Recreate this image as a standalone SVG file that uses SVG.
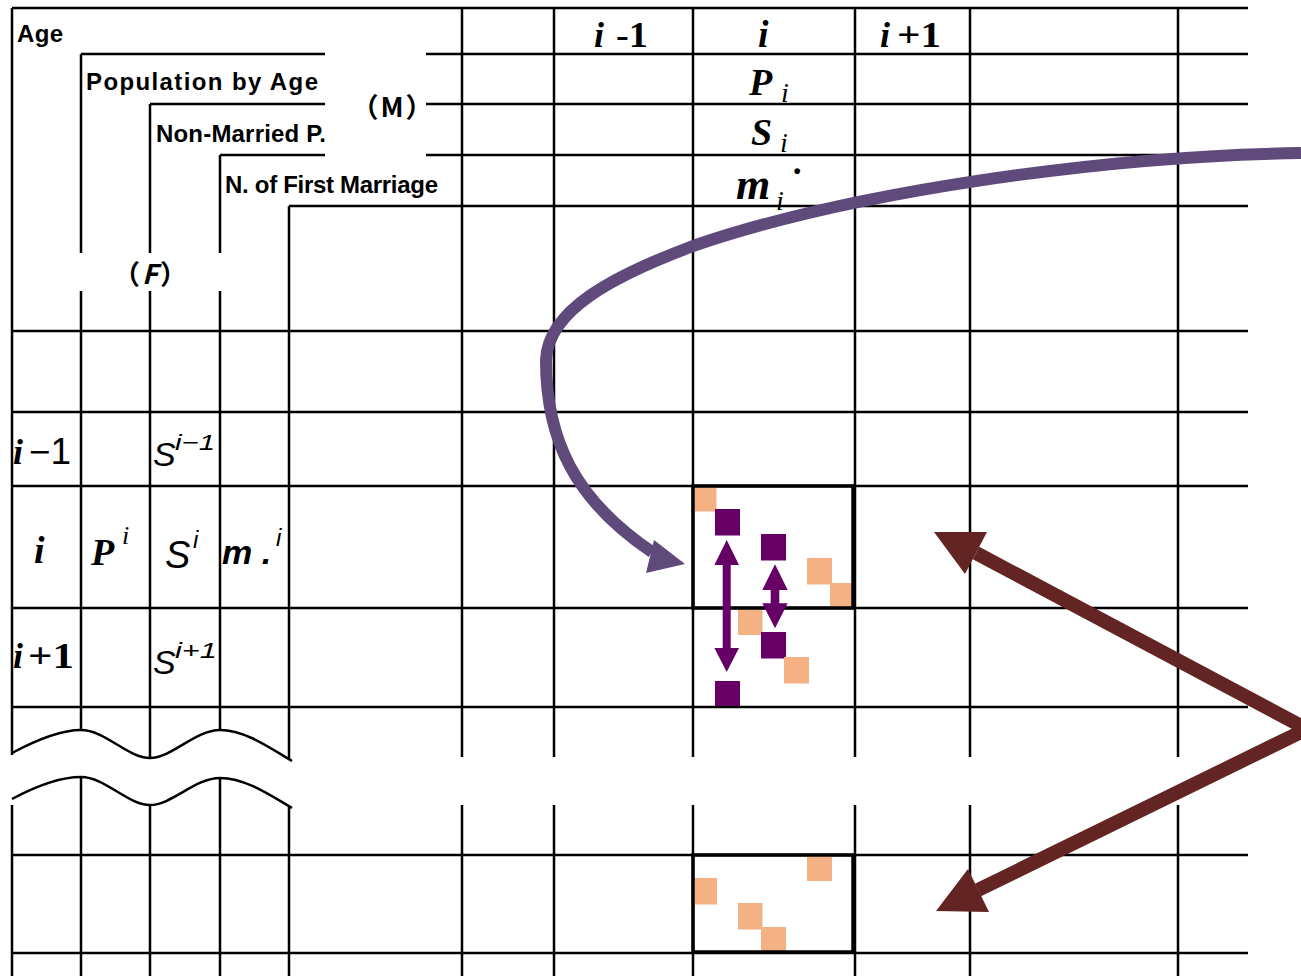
<svg xmlns="http://www.w3.org/2000/svg" width="1301" height="976" viewBox="0 0 1301 976">
<style>
.g{stroke:#000;stroke-width:2.5;fill:none}
.box{stroke:#000;stroke-width:3.5;fill:none}
.or{fill:#F4B183}
.pu{fill:#660066}
.lbl{font-family:"Liberation Sans",Arial,sans-serif;font-weight:bold;font-size:24px;fill:#000}
.par{font-family:"Noto Sans CJK JP","Liberation Sans",sans-serif;font-weight:bold;font-size:27px;fill:#000;letter-spacing:2px}
.tb{font-family:"Liberation Serif","Times New Roman",serif;font-weight:bold;fill:#000}
.tbi{font-family:"Liberation Serif","Times New Roman",serif;font-weight:bold;font-style:italic;fill:#000}
.ti{font-family:"Liberation Serif","Times New Roman",serif;font-style:italic;fill:#000}
.si{font-family:"Liberation Sans",Arial,sans-serif;font-style:italic;fill:#000}
.sbi{font-family:"Liberation Sans",Arial,sans-serif;font-style:italic;font-weight:bold;fill:#000}
.sr{font-family:"Liberation Sans",Arial,sans-serif;fill:#000}
.curve{stroke:#604A7B;stroke-width:12;fill:none}
.curvehead{fill:#604A7B}
.mar{stroke:#632523;stroke-width:14;fill:none;stroke-linejoin:miter}
.marhead{fill:#632523}
</style>
<rect width="1301" height="976" fill="#fff"/>
<g id="grid">
<path class="g" d="M12,8H1248 M81,54H325 M426,54H1248 M150,104H325 M426,104H1248 M220,155H325 M426,155H1248 M289,206H1248 M12,331H1248 M12,412H1248 M12,486H1248 M12,608H1248 M12,707H1248 M12,855H1248 M12,953H1248"/>
<path class="g" d="M12,8V755 M12,805V976 M81,54V253 M81,291V730 M81,778V976 M150,104V253 M150,291V758 M150,804V976 M220,155V253 M220,291V730 M220,778V976 M289,206V760 M289,807V976"/>
<path class="g" d="M462,8V757 M462,805V976 M554,8V757 M554,805V976 M693,8V757 M693,805V976 M855,8V757 M855,805V976 M970,8V757 M970,805V976 M1178,8V757 M1178,805V976"/>
<path class="g" d="M12,753 C40,738 62,730 81,730 C105,730 128,758 150,758 C172,758 195,730 220,730 C245,730 270,748 292,761"/>
<path class="g" d="M12,799 C40,784 62,777 81,777 C105,777 128,805 150,805 C172,805 195,778 220,778 C245,778 270,795 292,808"/>
</g>
<g id="header-labels">
<text class="lbl" x="17" y="42" textLength="46" font-size="25">Age</text>
<text class="lbl" x="86" y="90" textLength="232" lengthAdjust="spacing">Population by Age</text>
<text class="lbl" x="156" y="142" textLength="170" lengthAdjust="spacing">Non-Married P.</text>
<text class="lbl" x="225" y="193" textLength="213" lengthAdjust="spacing" font-size="23">N. of First Marriage</text>
<text class="par" x="393" y="117" text-anchor="middle">（M）</text>
<text class="par" x="151" y="284" text-anchor="middle">（<tspan font-style="italic">F</tspan>）</text>
</g>
<g id="col-headers">
<text class="tb" font-size="36" y="47"><tspan class="tbi" x="594">i</tspan><tspan x="616" textLength="32" lengthAdjust="spacingAndGlyphs">-1</tspan></text>
<text class="tbi" font-size="38" x="758" y="47">i</text>
<text class="tb" font-size="36" y="47"><tspan class="tbi" x="880">i</tspan><tspan x="897" textLength="44" lengthAdjust="spacingAndGlyphs">+1</tspan></text>
<text class="tbi" font-size="38" x="749" y="95">P</text><text class="ti" font-size="28" x="781" y="102">i</text>
<text class="tbi" font-size="38" x="751" y="145">S</text><text class="ti" font-size="28" x="780" y="152">i</text>
<text class="tbi" font-size="44" x="736" y="199">m</text><text class="ti" font-size="28" x="776" y="210">i</text><text class="tbi" font-size="36" x="794" y="174">.</text>
</g>
<g id="row-labels">
<text font-size="36" y="464"><tspan class="tbi" x="13">i</tspan><tspan class="sr" x="29" textLength="42" lengthAdjust="spacingAndGlyphs">−1</tspan></text>
<text class="tbi" font-size="38" x="34" y="563">i</text>
<text font-size="36" y="668"><tspan class="tbi" x="13">i</tspan><tspan class="tb" x="28" textLength="46" lengthAdjust="spacingAndGlyphs">+1</tspan></text>
<text class="si" font-size="34" x="153" y="466">S</text><text class="si" font-size="22" x="175" y="450" textLength="40" lengthAdjust="spacingAndGlyphs">i−1</text>
<text class="tbi" font-size="38" x="91" y="565">P</text><text class="ti" font-size="26" x="122" y="544">i</text>
<text class="si" font-size="38" x="165" y="568">S</text><text class="si" font-size="24" x="193" y="548">i</text>
<text class="sbi" font-size="34" x="222" y="564">m .</text><text class="si" font-size="24" x="276" y="546">i</text>
<text class="si" font-size="34" x="153" y="674">S</text><text class="si" font-size="22" x="175" y="658" textLength="42" lengthAdjust="spacingAndGlyphs">i+1</text>
</g>
<g id="cell-block-upper">
<rect class="or" x="694" y="486" width="22.5" height="25.5"/>
<rect class="pu" x="715" y="509" width="25" height="26.5"/>
<rect class="pu" x="761" y="534" width="25" height="26.5"/>
<rect class="or" x="807" y="558" width="25" height="26.5"/>
<rect class="or" x="830" y="583" width="22" height="23.5"/>
<rect class="or" x="738" y="610" width="24.5" height="25"/>
<rect class="pu" x="761" y="632" width="25" height="26.5"/>
<rect class="or" x="784" y="657" width="25" height="26.5"/>
<rect class="pu" x="715" y="681" width="25" height="25"/>
<rect class="box" x="693" y="486" width="160" height="122"/>
</g>
<g id="cell-block-lower">
<rect class="or" x="807" y="855" width="25" height="26"/>
<rect class="or" x="693" y="878" width="24" height="26.5"/>
<rect class="or" x="738" y="903" width="24.5" height="26.5"/>
<rect class="or" x="761" y="927" width="25" height="24"/>
<rect class="box" x="693" y="855" width="160" height="97"/>
</g>
<g id="connectors">
<path class="curve" d="M1301,153 C1100,156 850,192 693,246 C613,276 548,310 546,360 C546,440 575,500 652,552"/>
<polygon class="curvehead" points="654,540 685,564 646,573"/>
<path class="mar" d="M976,553 L1307,729 L978,890"/>
<polygon class="marhead" points="934,532 987,532 965,574"/>
<polygon class="marhead" points="936,911 968,869 989,912"/>
<polygon class="pu" points="726.7,540 739,565 730.7,565 730.7,648 739,648 726.7,672 714.4,648 722.7,648 722.7,565 714.4,565"/>
<polygon class="pu" points="775,564.3 787.7,590 779.3,590 779.3,603.3 787.7,603.3 775,628.3 762.3,603.3 770.7,603.3 770.7,590 762.3,590"/>
</g>
</svg>
